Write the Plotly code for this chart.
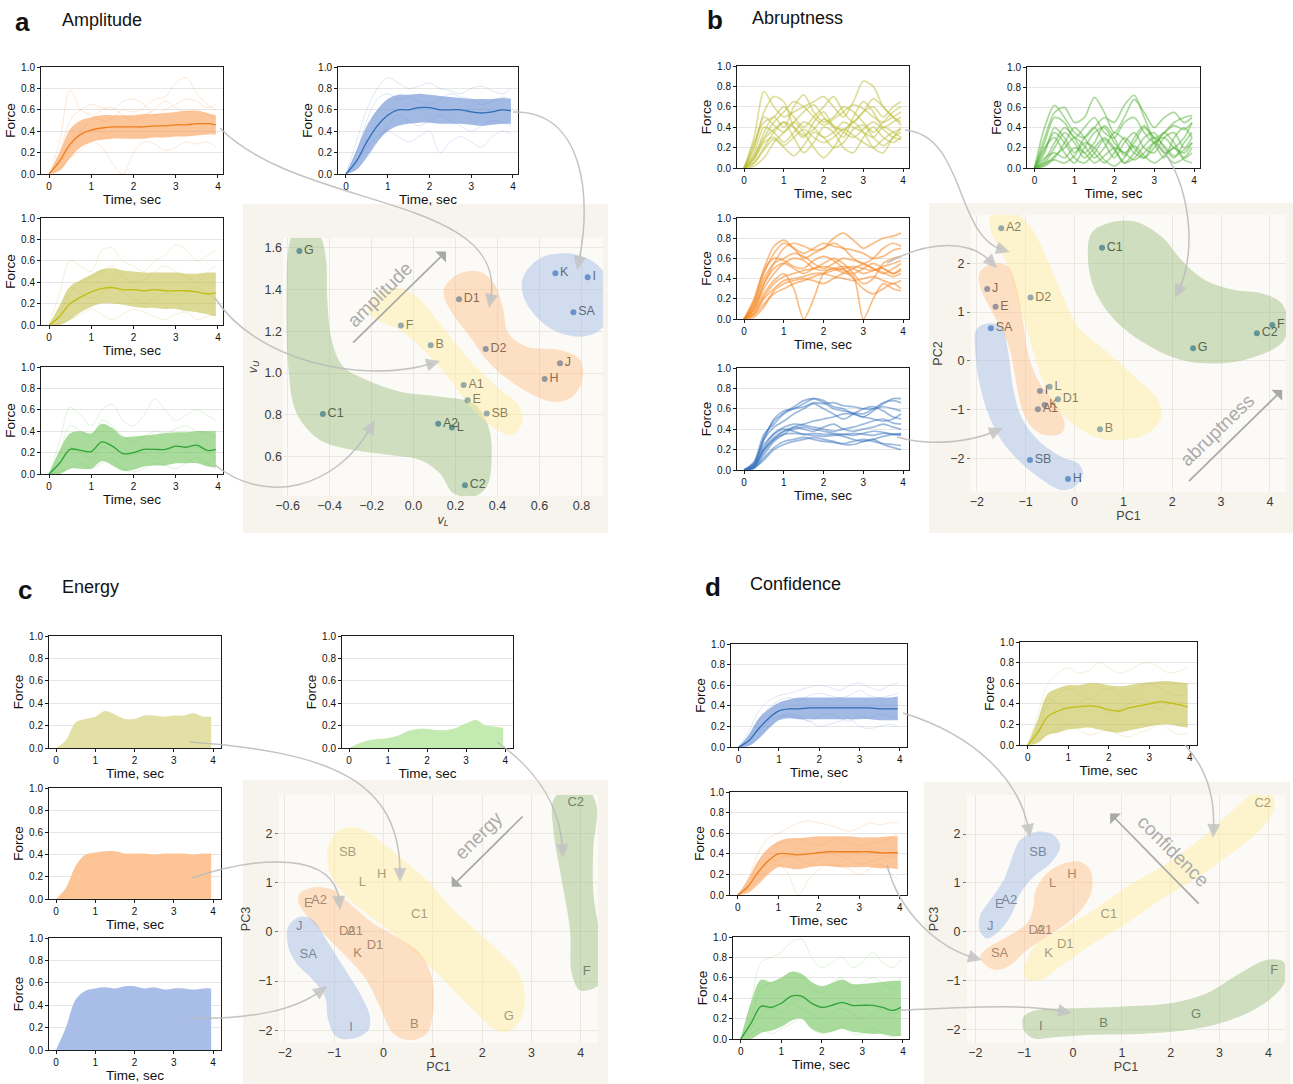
import math
import plotly.graph_objects as go

W, H = 1293, 1084
FONT = "Liberation Sans, Arial, Helvetica, sans-serif"

# ---------------- time-series data ----------------
T = [0.0, 0.25, 0.5, 0.75, 1.0, 1.25, 1.5, 1.75, 2.0, 2.25, 2.5, 2.75, 3.0, 3.25, 3.5, 3.75, 3.95]

# panel a (mean, band upper, band lower, a few single trials)
A_OR_MEAN = [0, 0.12, 0.28, 0.37, 0.41, 0.43, 0.44, 0.44, 0.44, 0.44, 0.45, 0.45, 0.46, 0.46, 0.47, 0.47, 0.46]
A_OR_UP = [0, 0.2, 0.42, 0.5, 0.53, 0.55, 0.55, 0.55, 0.55, 0.56, 0.56, 0.57, 0.58, 0.59, 0.59, 0.57, 0.55]
A_OR_LO = [0, 0.03, 0.15, 0.25, 0.3, 0.32, 0.33, 0.33, 0.33, 0.33, 0.34, 0.34, 0.35, 0.35, 0.36, 0.37, 0.37]
A_OR_TR = [
    [0, 0.3, 0.78, 0.6, 0.55, 0.5, 0.52, 0.6, 0.58, 0.62, 0.7, 0.72, 0.85, 0.9, 0.75, 0.65, 0.6],
    [0, 0.1, 0.25, 0.4, 0.5, 0.6, 0.62, 0.55, 0.5, 0.55, 0.6, 0.68, 0.62, 0.58, 0.6, 0.55, 0.52],
    [0, 0.05, 0.15, 0.22, 0.3, 0.25, 0.1, 0.0, 0.2, 0.3, 0.28, 0.22, 0.25, 0.3, 0.28, 0.3, 0.25],
    [0, 0.2, 0.5, 0.6, 0.65, 0.62, 0.6, 0.68, 0.7, 0.65, 0.55, 0.6, 0.65, 0.7, 0.68, 0.62, 0.65],
]
A_BL_MEAN = [0, 0.12, 0.3, 0.45, 0.55, 0.6, 0.6, 0.62, 0.62, 0.6, 0.6, 0.6, 0.58, 0.57, 0.58, 0.6, 0.59]
A_BL_UP = [0, 0.22, 0.45, 0.6, 0.7, 0.74, 0.74, 0.75, 0.74, 0.73, 0.72, 0.71, 0.7, 0.7, 0.7, 0.71, 0.7]
A_BL_LO = [0, 0.04, 0.16, 0.3, 0.4, 0.45, 0.47, 0.48, 0.48, 0.47, 0.47, 0.47, 0.46, 0.45, 0.46, 0.47, 0.47]
A_BL_TR = [
    [0, 0.3, 0.6, 0.8, 0.9, 0.85, 0.8, 0.82, 0.85, 0.8, 0.78, 0.75, 0.8, 0.82, 0.78, 0.75, 0.8],
    [0, 0.1, 0.25, 0.35, 0.4, 0.35, 0.3, 0.35, 0.4, 0.2, 0.3, 0.35, 0.3, 0.25, 0.35, 0.4, 0.38],
    [0, 0.2, 0.5, 0.7, 0.75, 0.7, 0.72, 0.68, 0.65, 0.7, 0.75, 0.72, 0.7, 0.65, 0.68, 0.72, 0.7],
    [0, 0.05, 0.15, 0.3, 0.45, 0.55, 0.5, 0.45, 0.5, 0.55, 0.5, 0.45, 0.4, 0.45, 0.5, 0.48, 0.45],
]
A_OL_MEAN = [0, 0.08, 0.2, 0.26, 0.31, 0.34, 0.35, 0.33, 0.33, 0.32, 0.33, 0.32, 0.32, 0.32, 0.31, 0.29, 0.30]
A_OL_UP = [0, 0.18, 0.36, 0.42, 0.47, 0.52, 0.53, 0.51, 0.5, 0.49, 0.49, 0.49, 0.49, 0.48, 0.48, 0.49, 0.49]
A_OL_LO = [0, 0.0, 0.05, 0.12, 0.17, 0.2, 0.2, 0.19, 0.17, 0.16, 0.16, 0.15, 0.15, 0.13, 0.12, 0.1, 0.08]
A_OL_TR = [
    [0, 0.3, 0.6, 0.55, 0.5, 0.7, 0.72, 0.6, 0.55, 0.5, 0.6, 0.65, 0.75, 0.7, 0.6, 0.65, 0.7],
    [0, 0.1, 0.3, 0.4, 0.45, 0.5, 0.55, 0.45, 0.4, 0.42, 0.5, 0.55, 0.5, 0.45, 0.4, 0.5, 0.55],
    [0, 0.02, 0.05, 0.1, 0.15, 0.1, 0.05, 0.1, 0.15, 0.12, 0.08, 0.05, 0.1, 0.12, 0.05, 0.08, 0.1],
    [0, 0.15, 0.35, 0.3, 0.25, 0.3, 0.35, 0.3, 0.25, 0.2, 0.25, 0.3, 0.28, 0.3, 0.35, 0.3, 0.25],
]
A_GR_MEAN = [0, 0.1, 0.23, 0.22, 0.21, 0.3, 0.26, 0.19, 0.2, 0.23, 0.23, 0.23, 0.26, 0.25, 0.27, 0.22, 0.23]
A_GR_UP = [0, 0.22, 0.38, 0.4, 0.38, 0.47, 0.43, 0.35, 0.35, 0.36, 0.37, 0.38, 0.39, 0.39, 0.4, 0.4, 0.4]
A_GR_LO = [0, 0.0, 0.05, 0.05, 0.05, 0.12, 0.08, 0.03, 0.04, 0.07, 0.08, 0.08, 0.1, 0.1, 0.1, 0.07, 0.06]
A_GR_TR = [
    [0, 0.3, 0.62, 0.55, 0.45, 0.6, 0.65, 0.5, 0.45, 0.55, 0.7, 0.6, 0.5, 0.55, 0.6, 0.55, 0.5],
    [0, 0.2, 0.45, 0.4, 0.35, 0.5, 0.45, 0.35, 0.3, 0.35, 0.4, 0.38, 0.42, 0.45, 0.4, 0.38, 0.35],
    [0, 0.02, 0.05, 0.1, 0.05, 0.1, 0.15, 0.05, 0.02, 0.05, 0.1, 0.08, 0.05, 0.1, 0.15, 0.1, 0.05],
    [0, 0.1, 0.25, 0.2, 0.15, 0.25, 0.2, 0.15, 0.18, 0.2, 0.15, 0.2, 0.25, 0.2, 0.25, 0.2, 0.15],
]

# panel b (single trials)
B_OL_TR = [
    [0, 0.2, 0.55, 0.7, 0.65, 0.4, 0.3, 0.45, 0.55, 0.4, 0.3, 0.5, 0.65, 0.55, 0.4, 0.45, 0.5],
    [0, 0.1, 0.35, 0.5, 0.4, 0.6, 0.72, 0.55, 0.45, 0.5, 0.6, 0.55, 0.45, 0.35, 0.45, 0.55, 0.6],
    [0, 0.3, 0.75, 0.6, 0.5, 0.55, 0.6, 0.65, 0.7, 0.6, 0.5, 0.65, 0.85, 0.8, 0.6, 0.5, 0.45],
    [0, 0.05, 0.2, 0.35, 0.45, 0.3, 0.15, 0.25, 0.4, 0.35, 0.2, 0.15, 0.3, 0.4, 0.3, 0.25, 0.3],
    [0, 0.15, 0.4, 0.35, 0.25, 0.35, 0.45, 0.4, 0.3, 0.35, 0.45, 0.4, 0.35, 0.3, 0.4, 0.35, 0.3],
    [0, 0.02, 0.1, 0.25, 0.35, 0.45, 0.35, 0.2, 0.1, 0.2, 0.35, 0.45, 0.35, 0.2, 0.15, 0.3, 0.35],
    [0, 0.25, 0.45, 0.5, 0.6, 0.5, 0.4, 0.5, 0.6, 0.7, 0.55, 0.45, 0.55, 0.6, 0.5, 0.6, 0.65],
    [0, 0.08, 0.25, 0.3, 0.22, 0.3, 0.38, 0.3, 0.25, 0.3, 0.38, 0.32, 0.25, 0.2, 0.28, 0.35, 0.38],
    [0, 0.12, 0.3, 0.45, 0.55, 0.65, 0.6, 0.5, 0.42, 0.48, 0.55, 0.62, 0.58, 0.5, 0.45, 0.5, 0.55],
    [0, 0.05, 0.18, 0.28, 0.2, 0.12, 0.22, 0.35, 0.3, 0.2, 0.25, 0.38, 0.42, 0.3, 0.22, 0.3, 0.4],
    [0, 0.22, 0.5, 0.42, 0.35, 0.45, 0.55, 0.62, 0.5, 0.4, 0.38, 0.45, 0.55, 0.68, 0.6, 0.5, 0.42],
    [0, 0.1, 0.28, 0.38, 0.45, 0.4, 0.32, 0.38, 0.48, 0.42, 0.35, 0.3, 0.38, 0.45, 0.38, 0.3, 0.28],
]
B_GR_TR = [
    [0, 0.3, 0.55, 0.6, 0.45, 0.5, 0.7, 0.55, 0.35, 0.5, 0.68, 0.55, 0.4, 0.5, 0.55, 0.45, 0.5],
    [0, 0.15, 0.4, 0.3, 0.15, 0.3, 0.4, 0.25, 0.1, 0.25, 0.35, 0.2, 0.15, 0.3, 0.35, 0.2, 0.3],
    [0, 0.05, 0.2, 0.35, 0.25, 0.1, 0.2, 0.3, 0.2, 0.05, 0.15, 0.3, 0.35, 0.2, 0.1, 0.25, 0.35],
    [0, 0.2, 0.3, 0.15, 0.05, 0.2, 0.35, 0.4, 0.25, 0.15, 0.25, 0.4, 0.3, 0.15, 0.2, 0.3, 0.45],
    [0, 0.02, 0.1, 0.25, 0.4, 0.3, 0.15, 0.05, 0.15, 0.3, 0.2, 0.1, 0.2, 0.35, 0.25, 0.1, 0.15],
    [0, 0.1, 0.15, 0.1, 0.2, 0.15, 0.05, 0.12, 0.2, 0.15, 0.08, 0.15, 0.25, 0.15, 0.05, 0.1, 0.2],
    [0, 0.25, 0.5, 0.45, 0.3, 0.4, 0.5, 0.35, 0.3, 0.45, 0.5, 0.35, 0.25, 0.35, 0.45, 0.5, 0.52],
    [0, 0.05, 0.08, 0.05, 0.12, 0.25, 0.2, 0.08, 0.02, 0.1, 0.22, 0.12, 0.05, 0.12, 0.2, 0.08, 0.05],
    [0, 0.08, 0.25, 0.4, 0.3, 0.15, 0.25, 0.42, 0.3, 0.12, 0.3, 0.42, 0.25, 0.1, 0.3, 0.4, 0.3],
    [0, 0.18, 0.35, 0.25, 0.1, 0.05, 0.15, 0.28, 0.18, 0.05, 0.1, 0.22, 0.3, 0.22, 0.12, 0.18, 0.25],
    [0, 0.03, 0.12, 0.2, 0.3, 0.22, 0.1, 0.2, 0.35, 0.28, 0.15, 0.1, 0.25, 0.3, 0.2, 0.15, 0.25],
    [0, 0.4, 0.62, 0.5, 0.35, 0.3, 0.4, 0.5, 0.45, 0.62, 0.72, 0.5, 0.3, 0.35, 0.42, 0.38, 0.45],
]
B_OR_TR = [
    [0, 0.15, 0.45, 0.65, 0.75, 0.7, 0.65, 0.7, 0.75, 0.72, 0.7, 0.68, 0.65, 0.6, 0.62, 0.68, 0.7],
    [0, 0.1, 0.3, 0.45, 0.55, 0.6, 0.58, 0.5, 0.48, 0.5, 0.52, 0.5, 0.45, 0.48, 0.5, 0.45, 0.48],
    [0, 0.05, 0.2, 0.3, 0.38, 0.4, 0.42, 0.45, 0.45, 0.42, 0.4, 0.38, 0.4, 0.42, 0.38, 0.35, 0.38],
    [0, 0.2, 0.5, 0.72, 0.78, 0.7, 0.6, 0.65, 0.7, 0.8, 0.85, 0.78, 0.7, 0.75, 0.8, 0.82, 0.85],
    [0, 0.08, 0.25, 0.38, 0.45, 0.3, 0.0, 0.2, 0.45, 0.5, 0.48, 0.45, 0.5, 0.55, 0.5, 0.45, 0.5],
    [0, 0.12, 0.35, 0.5, 0.55, 0.5, 0.45, 0.5, 0.55, 0.6, 0.55, 0.45, 0.35, 0.4, 0.55, 0.6, 0.62],
    [0, 0.02, 0.12, 0.28, 0.35, 0.38, 0.4, 0.38, 0.35, 0.4, 0.45, 0.42, 0.0, 0.2, 0.35, 0.3, 0.28],
    [0, 0.15, 0.4, 0.55, 0.6, 0.65, 0.62, 0.55, 0.5, 0.55, 0.6, 0.58, 0.55, 0.5, 0.45, 0.5, 0.55],
    [0, 0.1, 0.35, 0.55, 0.7, 0.75, 0.72, 0.68, 0.7, 0.75, 0.7, 0.6, 0.55, 0.6, 0.7, 0.75, 0.72],
    [0, 0.06, 0.22, 0.35, 0.42, 0.45, 0.48, 0.5, 0.52, 0.5, 0.46, 0.5, 0.54, 0.5, 0.46, 0.42, 0.45],
    [0, 0.18, 0.48, 0.6, 0.58, 0.52, 0.5, 0.58, 0.62, 0.58, 0.5, 0.4, 0.3, 0.25, 0.3, 0.35, 0.3],
    [0, 0.04, 0.15, 0.25, 0.3, 0.35, 0.38, 0.42, 0.45, 0.48, 0.5, 0.52, 0.5, 0.48, 0.52, 0.55, 0.58],
]
B_BL_TR = [
    [0, 0.05, 0.3, 0.5, 0.58, 0.6, 0.65, 0.7, 0.68, 0.62, 0.6, 0.55, 0.52, 0.58, 0.65, 0.7, 0.7],
    [0, 0.08, 0.35, 0.45, 0.55, 0.6, 0.62, 0.66, 0.65, 0.66, 0.63, 0.62, 0.6, 0.6, 0.62, 0.6, 0.58],
    [0, 0.03, 0.2, 0.32, 0.38, 0.4, 0.42, 0.4, 0.38, 0.36, 0.35, 0.34, 0.36, 0.38, 0.37, 0.35, 0.36],
    [0, 0.05, 0.25, 0.35, 0.4, 0.38, 0.35, 0.36, 0.35, 0.35, 0.33, 0.3, 0.28, 0.3, 0.33, 0.35, 0.35],
    [0, 0.02, 0.15, 0.28, 0.35, 0.42, 0.45, 0.48, 0.5, 0.52, 0.55, 0.55, 0.52, 0.5, 0.48, 0.5, 0.55],
    [0, 0.04, 0.2, 0.3, 0.38, 0.42, 0.4, 0.38, 0.42, 0.45, 0.4, 0.38, 0.4, 0.42, 0.45, 0.42, 0.4],
    [0, 0.02, 0.1, 0.2, 0.25, 0.28, 0.3, 0.32, 0.3, 0.28, 0.25, 0.25, 0.28, 0.3, 0.25, 0.22, 0.2],
    [0, 0.06, 0.3, 0.42, 0.48, 0.55, 0.6, 0.65, 0.6, 0.55, 0.5, 0.55, 0.6, 0.62, 0.58, 0.52, 0.5],
    [0, 0.04, 0.22, 0.36, 0.42, 0.45, 0.44, 0.42, 0.4, 0.38, 0.4, 0.42, 0.45, 0.48, 0.5, 0.46, 0.45],
    [0, 0.03, 0.18, 0.3, 0.35, 0.36, 0.35, 0.34, 0.33, 0.34, 0.35, 0.36, 0.35, 0.34, 0.36, 0.35, 0.34],
    [0, 0.07, 0.32, 0.48, 0.56, 0.62, 0.68, 0.7, 0.66, 0.6, 0.58, 0.56, 0.55, 0.6, 0.66, 0.68, 0.66],
    [0, 0.02, 0.12, 0.22, 0.28, 0.3, 0.32, 0.3, 0.28, 0.27, 0.26, 0.28, 0.3, 0.28, 0.26, 0.25, 0.24],
]

# panel c (mean force as filled area)
C_OL = [0, 0.07, 0.23, 0.26, 0.28, 0.33, 0.3, 0.26, 0.26, 0.29, 0.29, 0.28, 0.29, 0.29, 0.31, 0.28, 0.28]
C_GR = [0, 0.04, 0.07, 0.08, 0.09, 0.11, 0.15, 0.17, 0.17, 0.16, 0.16, 0.18, 0.22, 0.25, 0.2, 0.19, 0.18]
C_OR = [0, 0.1, 0.3, 0.4, 0.42, 0.43, 0.43, 0.41, 0.41, 0.41, 0.4, 0.41, 0.41, 0.41, 0.4, 0.41, 0.41]
C_BL = [0, 0.2, 0.45, 0.53, 0.55, 0.56, 0.55, 0.57, 0.57, 0.55, 0.56, 0.54, 0.55, 0.55, 0.54, 0.55, 0.55]

# panel d
D_BL_MEAN = [0, 0.06, 0.18, 0.28, 0.35, 0.37, 0.37, 0.38, 0.38, 0.38, 0.38, 0.38, 0.38, 0.38, 0.37, 0.37, 0.37]
D_BL_UP = [0, 0.12, 0.28, 0.37, 0.43, 0.46, 0.48, 0.48, 0.48, 0.48, 0.48, 0.48, 0.48, 0.48, 0.48, 0.48, 0.49]
D_BL_LO = [0, 0.01, 0.08, 0.18, 0.26, 0.28, 0.27, 0.27, 0.27, 0.27, 0.27, 0.27, 0.27, 0.27, 0.26, 0.26, 0.26]
D_BL_TR = [
    [0, 0.15, 0.35, 0.45, 0.5, 0.52, 0.55, 0.58, 0.6, 0.58, 0.55, 0.6, 0.62, 0.58, 0.55, 0.6, 0.62],
    [0, 0.05, 0.15, 0.25, 0.3, 0.3, 0.28, 0.25, 0.2, 0.22, 0.25, 0.28, 0.2, 0.18, 0.2, 0.22, 0.2],
    [0, 0.1, 0.25, 0.38, 0.45, 0.48, 0.45, 0.5, 0.52, 0.5, 0.48, 0.5, 0.55, 0.5, 0.48, 0.5, 0.52],
    [0, 0.02, 0.1, 0.2, 0.28, 0.32, 0.3, 0.25, 0.3, 0.32, 0.28, 0.25, 0.3, 0.28, 0.32, 0.3, 0.28],
]
D_OL_MEAN = [0, 0.12, 0.28, 0.33, 0.36, 0.37, 0.38, 0.37, 0.34, 0.33, 0.36, 0.38, 0.4, 0.42, 0.41, 0.39, 0.37]
D_OL_UP = [0, 0.25, 0.5, 0.55, 0.58, 0.58, 0.6, 0.6, 0.58, 0.57, 0.58, 0.6, 0.61, 0.62, 0.62, 0.61, 0.6]
D_OL_LO = [0, 0.02, 0.1, 0.12, 0.15, 0.16, 0.17, 0.15, 0.13, 0.12, 0.14, 0.16, 0.18, 0.2, 0.2, 0.18, 0.17]
D_OL_TR = [
    [0, 0.3, 0.6, 0.7, 0.75, 0.7, 0.72, 0.8, 0.75, 0.7, 0.72, 0.78, 0.8, 0.75, 0.7, 0.72, 0.75],
    [0, 0.15, 0.4, 0.5, 0.55, 0.5, 0.45, 0.5, 0.55, 0.5, 0.45, 0.55, 0.6, 0.55, 0.5, 0.48, 0.5],
    [0, 0.05, 0.1, 0.15, 0.2, 0.15, 0.1, 0.12, 0.15, 0.1, 0.08, 0.12, 0.15, 0.2, 0.15, 0.1, 0.12],
    [0, 0.2, 0.45, 0.4, 0.35, 0.4, 0.45, 0.4, 0.3, 0.35, 0.4, 0.45, 0.4, 0.35, 0.4, 0.42, 0.4],
]
D_OR_MEAN = [0, 0.08, 0.22, 0.33, 0.4, 0.4, 0.39, 0.4, 0.41, 0.42, 0.42, 0.42, 0.42, 0.42, 0.41, 0.41, 0.41]
D_OR_UP = [0, 0.15, 0.33, 0.45, 0.52, 0.55, 0.55, 0.56, 0.57, 0.57, 0.57, 0.57, 0.56, 0.56, 0.56, 0.57, 0.57]
D_OR_LO = [0, 0.02, 0.1, 0.2, 0.27, 0.26, 0.25, 0.27, 0.28, 0.28, 0.27, 0.27, 0.27, 0.27, 0.26, 0.26, 0.25]
D_OR_TR = [
    [0, 0.15, 0.4, 0.55, 0.6, 0.65, 0.7, 0.72, 0.7, 0.68, 0.65, 0.62, 0.65, 0.7, 0.68, 0.7, 0.7],
    [0, 0.05, 0.15, 0.25, 0.3, 0.2, 0.0, 0.15, 0.25, 0.3, 0.28, 0.25, 0.2, 0.25, 0.3, 0.22, 0.15],
    [0, 0.1, 0.3, 0.45, 0.5, 0.52, 0.55, 0.5, 0.48, 0.52, 0.55, 0.5, 0.48, 0.5, 0.52, 0.55, 0.6],
    [0, 0.08, 0.2, 0.3, 0.35, 0.38, 0.35, 0.3, 0.35, 0.4, 0.38, 0.35, 0.3, 0.32, 0.35, 0.38, 0.35],
]
D_GR_MEAN = [0, 0.15, 0.32, 0.31, 0.35, 0.42, 0.42, 0.35, 0.31, 0.33, 0.36, 0.33, 0.33, 0.33, 0.31, 0.28, 0.31]
D_GR_UP = [0, 0.35, 0.58, 0.56, 0.6, 0.66, 0.64, 0.56, 0.52, 0.55, 0.58, 0.54, 0.54, 0.55, 0.56, 0.57, 0.57]
D_GR_LO = [0, 0.0, 0.06, 0.08, 0.12, 0.18, 0.2, 0.1, 0.06, 0.07, 0.1, 0.07, 0.06, 0.05, 0.05, 0.03, 0.03]
D_GR_TR = [
    [0, 0.35, 0.75, 0.8, 0.85, 0.95, 0.98, 0.8, 0.7, 0.75, 0.8, 0.7, 0.75, 0.85, 0.75, 0.7, 0.78],
    [0, 0.2, 0.5, 0.55, 0.6, 0.65, 0.6, 0.5, 0.45, 0.55, 0.6, 0.5, 0.55, 0.6, 0.55, 0.5, 0.6],
    [0, 0.05, 0.1, 0.05, 0.1, 0.15, 0.2, 0.1, 0.05, 0.08, 0.12, 0.05, 0.05, 0.1, 0.05, 0.02, 0.05],
    [0, 0.1, 0.25, 0.3, 0.25, 0.35, 0.3, 0.25, 0.2, 0.25, 0.3, 0.25, 0.2, 0.25, 0.3, 0.25, 0.28],
]

# ---------------- scatter data ----------------
LABELS_A = ["G", "C1", "F", "B", "D1", "D2", "A1", "E", "SB", "A2", "L", "C2", "H", "J", "K", "I", "SA"]
VL = [-0.544, -0.432, -0.06, 0.082, 0.217, 0.344, 0.239, 0.258, 0.349, 0.118, 0.183, 0.245, 0.625, 0.698, 0.676, 0.83, 0.762]
VU = [1.584, 0.804, 1.227, 1.133, 1.353, 1.115, 0.943, 0.870, 0.806, 0.758, 0.740, 0.464, 0.972, 1.047, 1.477, 1.458, 1.291]

LABELS_B = ["A2", "C1", "J", "D2", "E", "SA", "F", "C2", "G", "I", "L", "D1", "A1", "K", "B", "SB", "H"]
PC1_B = [-1.501, 0.563, -1.788, -0.900, -1.617, -1.713, 4.048, 3.734, 2.428, -0.708, -0.510, -0.339, -0.749, -0.613, 0.522, -0.913, -0.134]
PC2_B = [2.718, 2.321, 1.473, 1.296, 1.111, 0.667, 0.735, 0.564, 0.256, -0.619, -0.530, -0.790, -0.995, -0.906, -1.405, -2.034, -2.424]

LABELS_C = ["C2", "SB", "H", "L", "E", "A2", "C1", "J", "D2", "A1", "D1", "K", "SA", "F", "I", "B", "G"]
PC1_C = [3.898, -0.728, -0.038, -0.431, -1.527, -1.310, 0.726, -1.709, -0.735, -0.580, -0.174, -0.525, -1.527, 4.121, -0.661, 0.624, 2.539]
PC3_C = [2.624, 1.614, 1.166, 0.997, 0.576, 0.630, 0.339, 0.101, 0.0, 0.0, -0.285, -0.454, -0.475, -0.814, -1.953, -1.899, -1.729]
PC1_D = [3.884, -0.718, -0.023, -0.418, -1.509, -1.305, 0.734, -1.693, -0.739, -0.589, -0.159, -0.500, -1.502, 4.122, -0.657, 0.625, 2.520]
PC3_D = [2.614, 1.618, 1.160, 0.990, 0.560, 0.635, 0.341, 0.102, 0.014, 0.014, -0.273, -0.457, -0.457, -0.805, -1.945, -1.877, -1.707]

# cluster hulls (outline vertices in data units)
HULL_A_GREEN = [(-0.525, 1.692), (-0.446, 1.653), (-0.417, 1.541), (-0.411, 1.350), (-0.390, 1.158), (-0.335, 1.031), (-0.223, 0.967), (-0.064, 0.911), (0.126, 0.887), (0.285, 0.855), (0.357, 0.744), (0.372, 0.584), (0.349, 0.456), (0.285, 0.409), (0.190, 0.425), (0.126, 0.520), (0.031, 0.584), (-0.112, 0.608), (-0.287, 0.632), (-0.446, 0.680), (-0.557, 0.807), (-0.597, 1.031), (-0.605, 1.350), (-0.597, 1.589), (-0.573, 1.669)]
HULL_A_YELLOW = [(-0.215, 1.294), (-0.176, 1.374), (-0.088, 1.409), (0.015, 1.366), (0.126, 1.238), (0.253, 1.078), (0.396, 0.935), (0.500, 0.847), (0.520, 0.775), (0.476, 0.704), (0.396, 0.728), (0.285, 0.823), (0.174, 0.967), (0.063, 1.094), (-0.065, 1.206), (-0.176, 1.254)]
HULL_A_ORANGE = [(0.150, 1.413), (0.214, 1.474), (0.317, 1.485), (0.388, 1.421), (0.428, 1.302), (0.452, 1.190), (0.539, 1.126), (0.698, 1.110), (0.794, 1.063), (0.802, 0.959), (0.746, 0.879), (0.658, 0.863), (0.555, 0.903), (0.444, 0.975), (0.349, 1.063), (0.269, 1.174), (0.190, 1.278), (0.145, 1.366)]
HULL_A_BLUE = [(0.523, 1.461), (0.603, 1.549), (0.730, 1.573), (0.857, 1.533), (0.929, 1.445), (0.937, 1.302), (0.889, 1.206), (0.794, 1.174), (0.666, 1.206), (0.571, 1.286), (0.520, 1.381)]

HULL_B_YELLOW = [(-1.706, 2.992), (-1.296, 3.060), (-0.954, 2.821), (-0.613, 2.205), (-0.271, 1.385), (0.071, 0.701), (0.617, 0.222), (1.232, -0.325), (1.711, -0.804), (1.779, -1.146), (1.506, -1.487), (0.891, -1.624), (0.412, -1.556), (-0.134, -1.214), (-0.476, -0.804), (-0.749, -0.120), (-0.954, 0.564), (-1.159, 1.248), (-1.364, 1.932), (-1.638, 2.479), (-1.740, 2.786)]
HULL_B_ORANGE = [(-1.911, 1.863), (-1.638, 2.000), (-1.364, 1.932), (-1.194, 1.521), (-1.057, 0.838), (-0.954, 0.154), (-0.749, -0.393), (-0.408, -0.872), (-0.203, -1.282), (-0.271, -1.487), (-0.613, -1.522), (-0.886, -1.351), (-1.091, -0.940), (-1.228, -0.256), (-1.364, 0.359), (-1.638, 0.906), (-1.911, 1.453), (-1.966, 1.692)]
HULL_B_BLUE = [(-2.014, 0.632), (-1.774, 0.769), (-1.501, 0.701), (-1.364, 0.222), (-1.262, -0.530), (-1.091, -1.146), (-0.749, -1.624), (-0.271, -1.966), (0.071, -2.103), (0.173, -2.308), (0.002, -2.581), (-0.271, -2.650), (-0.749, -2.376), (-1.159, -2.034), (-1.501, -1.624), (-1.774, -1.077), (-1.945, -0.462), (-2.034, 0.222)]
HULL_B_GREEN = [(0.344, 2.615), (0.686, 2.821), (1.232, 2.855), (1.779, 2.547), (2.189, 2.068), (2.668, 1.658), (3.283, 1.453), (3.829, 1.385), (4.239, 1.179), (4.376, 0.701), (4.239, 0.359), (3.693, 0.085), (3.009, -0.051), (2.189, 0.017), (1.437, 0.359), (0.822, 0.838), (0.412, 1.453), (0.276, 2.068)]

HULL_C_YELLOW = [(-1.121, 1.729), (-0.884, 2.068), (-0.478, 2.102), (-0.005, 1.797), (0.401, 1.458), (0.875, 1.051), (1.416, 0.441), (2.092, -0.170), (2.701, -0.780), (2.870, -1.254), (2.769, -1.797), (2.498, -2.034), (2.227, -1.966), (1.822, -1.593), (1.281, -1.051), (0.739, -0.509), (0.198, -0.034), (-0.343, 0.373), (-0.816, 0.780), (-1.087, 1.186), (-1.141, 1.492)]
HULL_C_ORANGE = [(-1.696, 0.780), (-1.425, 0.902), (-1.019, 0.847), (-0.613, 0.508), (-0.208, 0.169), (0.266, -0.102), (0.739, -0.441), (0.976, -0.915), (1.010, -1.593), (0.875, -2.068), (0.537, -2.204), (0.198, -2.068), (-0.072, -1.526), (-0.343, -0.983), (-0.749, -0.509), (-1.222, -0.034), (-1.594, 0.373), (-1.729, 0.610)]
HULL_C_BLUE = [(-1.932, 0.102), (-1.696, 0.305), (-1.425, 0.237), (-1.155, -0.170), (-0.816, -0.712), (-0.478, -1.254), (-0.275, -1.729), (-0.309, -2.000), (-0.613, -2.170), (-0.952, -2.136), (-1.121, -1.797), (-1.188, -1.322), (-1.425, -0.983), (-1.763, -0.644), (-1.932, -0.305)]
HULL_C_GREEN = [(3.445, 2.678), (3.716, 2.915), (4.121, 2.915), (4.324, 2.542), (4.257, 1.729), (4.257, 0.780), (4.392, -0.102), (4.460, -0.915), (4.324, -1.119), (3.986, -1.187), (3.817, -0.848), (3.783, 0.034), (3.614, 1.051), (3.445, 2.068)]

HULL_D_BLUE = [(-1.080, 1.877), (-0.739, 2.048), (-0.398, 1.980), (-0.261, 1.741), (-0.466, 1.399), (-0.807, 1.126), (-1.080, 0.785), (-1.250, 0.375), (-1.489, 0.034), (-1.761, -0.137), (-1.898, 0.0), (-1.911, 0.307), (-1.693, 0.648), (-1.420, 1.058), (-1.216, 1.604)]
HULL_D_ORANGE = [(-0.773, 0.819), (-0.534, 1.195), (-0.193, 1.399), (0.148, 1.433), (0.352, 1.263), (0.386, 0.853), (0.216, 0.512), (-0.125, 0.171), (-0.534, -0.102), (-0.943, -0.375), (-1.284, -0.683), (-1.557, -0.785), (-1.795, -0.683), (-1.898, -0.512), (-1.761, -0.341), (-1.352, -0.102), (-0.943, 0.171), (-0.807, 0.512)]
HULL_D_YELLOW = [(-0.943, -0.580), (-0.773, -0.273), (-0.261, 0.034), (0.420, 0.444), (1.102, 0.922), (1.920, 1.399), (2.670, 1.945), (3.352, 2.560), (3.761, 2.867), (4.068, 2.833), (4.116, 2.491), (3.829, 2.082), (3.148, 1.536), (2.466, 1.058), (1.784, 0.648), (1.102, 0.171), (0.420, -0.239), (-0.261, -0.717), (-0.670, -0.990), (-0.943, -0.976), (-1.011, -0.785)]
HULL_D_GREEN = [(-1.011, -1.741), (-0.739, -1.604), (-0.057, -1.570), (0.966, -1.536), (1.989, -1.468), (2.739, -1.263), (3.420, -0.853), (3.966, -0.580), (4.307, -0.614), (4.375, -0.922), (4.170, -1.263), (3.693, -1.604), (3.011, -1.877), (2.330, -2.014), (1.307, -2.096), (0.284, -2.116), (-0.398, -2.164), (-0.807, -2.184), (-1.011, -2.014)]

# ---------------- styles ----------------
COL = {
    "orange": dict(line="#f07e1c", band="rgba(248,150,70,0.55)", faint="rgba(248,150,70,0.22)",
                   trial="rgba(245,135,35,0.55)", area="#fdc596", hull="rgba(255,185,125,0.42)"),
    "blue": dict(line="#2f6fb6", band="rgba(95,135,208,0.58)", faint="rgba(95,135,208,0.2)",
                 trial="rgba(55,115,190,0.5)", area="#a9bde9", hull="rgba(150,180,228,0.42)"),
    "olive": dict(line="#c2bd10", band="rgba(190,185,60,0.55)", faint="rgba(190,185,60,0.2)",
                  trial="rgba(190,190,55,0.5)", area="#e3e0a6", hull="rgba(255,235,150,0.42)"),
    "green": dict(line="#2ea436", band="rgba(110,195,90,0.6)", faint="rgba(110,195,90,0.2)",
                  trial="rgba(85,180,55,0.5)", area="#c3eab1", hull="rgba(140,180,110,0.40)"),
}
HULL_COL = {"green": COL["green"]["hull"], "yellow": COL["olive"]["hull"],
            "orange": COL["orange"]["hull"], "blue": COL["blue"]["hull"]}

fig = go.Figure()
layout = {}
shapes = []
annotations = []


def names(n):
    s = "" if n == 1 else str(n)
    return "xaxis" + s, "yaxis" + s, "x" + s, "y" + s


def small_axes(n, box, xr):
    x0, y0, x1, y1 = box
    xa, ya, xr_, yr_ = names(n)
    common = dict(showline=True, mirror=True, linecolor="#1c1c1c", linewidth=1, ticks="outside",
                  ticklen=3, tickwidth=1, tickcolor="#1c1c1c", zeroline=False, automargin=False,
                  tickfont=dict(size=10, color="#111", family=FONT))
    layout[xa] = dict(domain=[x0 / W, x1 / W], range=xr, anchor=yr_, dtick=1, tick0=0, showgrid=False,
                      title=dict(text="Time, sec", font=dict(size=13.5, color="#111", family=FONT), standoff=1),
                      **common)
    layout[ya] = dict(domain=[1 - y1 / H, 1 - y0 / H], range=[0, 1], anchor=xr_, dtick=0.2, tick0=0,
                      tickformat=".1f", showgrid=True, gridcolor="#e6e6e6", gridwidth=1,
                      title=dict(text="Force", font=dict(size=13.5, color="#111", family=FONT), standoff=2),
                      **common)
    return xr_, yr_


def band_plot(n, box, xr, cname, mean, up, lo, trials):
    xr_, yr_ = small_axes(n, box, xr)
    c = COL[cname]
    for tr in trials:
        fig.add_trace(go.Scatter(x=T, y=tr, mode="lines", line=dict(color=c["faint"], width=1, shape="spline"),
                                 xaxis=xr_, yaxis=yr_, hoverinfo="skip", showlegend=False))
    fig.add_trace(go.Scatter(x=T, y=up, mode="lines", line=dict(width=0, shape="spline"),
                             xaxis=xr_, yaxis=yr_, hoverinfo="skip", showlegend=False))
    fig.add_trace(go.Scatter(x=T, y=lo, mode="lines", line=dict(width=0, shape="spline"), fill="tonexty",
                             fillcolor=c["band"], xaxis=xr_, yaxis=yr_, hoverinfo="skip", showlegend=False))
    fig.add_trace(go.Scatter(x=T, y=mean, mode="lines", line=dict(color=c["line"], width=1.3, shape="spline"),
                             xaxis=xr_, yaxis=yr_, hoverinfo="skip", showlegend=False))


def trial_plot(n, box, xr, cname, trials):
    xr_, yr_ = small_axes(n, box, xr)
    c = COL[cname]
    for tr in trials:
        fig.add_trace(go.Scatter(x=T, y=tr, mode="lines", line=dict(color=c["trial"], width=1.7, shape="spline", smoothing=0.8),
                                 xaxis=xr_, yaxis=yr_, hoverinfo="skip", showlegend=False))


def area_plot(n, box, xr, cname, vals):
    xr_, yr_ = small_axes(n, box, xr)
    fig.add_trace(go.Scatter(x=T, y=vals, mode="lines", line=dict(width=0, shape="spline"), fill="tozeroy",
                             fillcolor=COL[cname]["area"], xaxis=xr_, yaxis=yr_, hoverinfo="skip", showlegend=False))


def scatter_axes(n, box, xr, yr, dtick, fmt, xtitle, ytitle, yticks):
    x0, y0, x1, y1 = box
    xa, ya, xr_, yr_ = names(n)
    tf = dict(size=12.5, color="#3a3a3a", family=FONT)
    layout[xa] = dict(domain=[x0 / W, x1 / W], range=xr, anchor=yr_, dtick=dtick, tick0=0, tickformat=fmt,
                      showgrid=True, gridcolor="#ebe8e1", zeroline=False, showline=False, ticks="", automargin=False,
                      tickfont=tf, title=dict(text=xtitle, font=dict(size=12.5, color="#444", family=FONT), standoff=3))
    layout[ya] = dict(domain=[1 - y1 / H, 1 - y0 / H], range=yr, anchor=xr_, dtick=dtick, tick0=0, tickformat=fmt,
                      showgrid=True, gridcolor="#ebe8e1", zeroline=False, showline=False, automargin=False,
                      ticks="outside" if yticks else "", ticklen=3, tickcolor="#777",
                      tickfont=tf, title=dict(text=ytitle, font=dict(size=12.5, color="#444", family=FONT), standoff=4))
    shapes.append(dict(type="rect", xref="paper", yref="paper", x0=x0 / W, x1=x1 / W, y0=1 - y1 / H, y1=1 - y0 / H,
                       fillcolor="#fcfaf6", line=dict(width=0), layer="below"))
    return xr_, yr_


def hulls(xr_, yr_, items):
    for cname, pts in items:
        xs = [p[0] for p in pts] + [pts[0][0]]
        ys = [p[1] for p in pts] + [pts[0][1]]
        fig.add_trace(go.Scatter(x=xs, y=ys, mode="lines", fill="toself", fillcolor=HULL_COL[cname],
                                 line=dict(width=0, shape="spline", smoothing=1.0),
                                 xaxis=xr_, yaxis=yr_, hoverinfo="skip", showlegend=False))


def data_arrow(xr_, yr_, tail, head, text, tpos, angle):
    annotations.append(dict(x=head[0], y=head[1], ax=tail[0], ay=tail[1], xref=xr_, yref=yr_, axref=xr_, ayref=yr_,
                            text="", showarrow=True, arrowhead=1, arrowsize=1.5, arrowwidth=1.7, arrowcolor="#a9a9a9"))
    annotations.append(dict(x=tpos[0], y=tpos[1], xref=xr_, yref=yr_, text=text, showarrow=False, textangle=angle,
                            font=dict(size=19, color="#ababab", family=FONT)))


for (bx0, by0, bx1, by1) in [(243, 204, 608, 533), (929, 203, 1293, 533), (243, 780, 608, 1084), (924, 782, 1290, 1084)]:
    shapes.append(dict(type="rect", xref="paper", yref="paper", x0=bx0 / W, x1=bx1 / W, y0=1 - by1 / H, y1=1 - by0 / H,
                       fillcolor="#f7f4ed", line=dict(width=0), layer="below"))

# ---------------- panel a ----------------
band_plot(1, (41, 67, 223, 174), [-0.19, 4.12], "orange", A_OR_MEAN, A_OR_UP, A_OR_LO, A_OR_TR)
band_plot(2, (338, 67, 518, 174), [-0.19, 4.12], "blue", A_BL_MEAN, A_BL_UP, A_BL_LO, A_BL_TR)
band_plot(3, (41, 218, 223, 325), [-0.19, 4.12], "olive", A_OL_MEAN, A_OL_UP, A_OL_LO, A_OL_TR)
band_plot(4, (41, 367, 223, 474), [-0.19, 4.12], "green", A_GR_MEAN, A_GR_UP, A_GR_LO, A_GR_TR)
xs, ys = scatter_axes(5, (283, 238, 603, 496), [-0.622, 0.903], [0.412, 1.646], 0.2, ".1f",
                      "<i>v</i><sub><i>L</i></sub>", "<i>v</i><sub><i>U</i></sub>", False)
fig.add_trace(go.Scatter(x=VL, y=VU, mode="markers+text", text=LABELS_A, textposition="middle right",
                         marker=dict(size=6, color="#4a7db5"), textfont=dict(size=12.5, color="#333", family=FONT),
                         cliponaxis=False, xaxis=xs, yaxis=ys, hoverinfo="skip", showlegend=False))
hulls(xs, ys, [("green", HULL_A_GREEN), ("yellow", HULL_A_YELLOW), ("orange", HULL_A_ORANGE), ("blue", HULL_A_BLUE)])
data_arrow(xs, ys, (-0.295, 1.139), (0.155, 1.581), "amplitude", (-0.16, 1.374), -45)

# ---------------- panel b ----------------
trial_plot(6, (737, 66, 909, 168), [-0.18, 4.15], "olive", B_OL_TR)
trial_plot(7, (1027, 67, 1200, 168), [-0.19, 4.15], "green", B_GR_TR)
trial_plot(8, (737, 218, 909, 319), [-0.18, 4.15], "orange", B_OR_TR)
trial_plot(9, (737, 368, 909, 470), [-0.18, 4.15], "blue", B_BL_TR)
xs, ys = scatter_axes(10, (971, 215, 1286, 492), [-2.12, 4.33], [-2.69, 2.99], 1, "d", "PC1", "PC2", True)
fig.add_trace(go.Scatter(x=PC1_B, y=PC2_B, mode="markers+text", text=LABELS_B, textposition="middle right",
                         marker=dict(size=6, color="#4a7db5"), textfont=dict(size=12.5, color="#333", family=FONT),
                         cliponaxis=False, xaxis=xs, yaxis=ys, hoverinfo="skip", showlegend=False))
hulls(xs, ys, [("yellow", HULL_B_YELLOW), ("orange", HULL_B_ORANGE), ("blue", HULL_B_BLUE), ("green", HULL_B_GREEN)])
data_arrow(xs, ys, (2.312, -2.499), (4.253, -0.598), "abruptness", (2.907, -1.42), -44)

# ---------------- panel c ----------------
area_plot(11, (49, 636, 221, 748), [-0.18, 4.2], "olive", C_OL)
area_plot(12, (342, 636, 513, 748), [-0.18, 4.2], "green", C_GR)
area_plot(13, (49, 788, 221, 899), [-0.18, 4.2], "orange", C_OR)
area_plot(14, (49, 938, 221, 1050), [-0.18, 4.2], "blue", C_BL)
xs, ys = scatter_axes(15, (279, 795, 598, 1043), [-2.12, 4.35], [-2.26, 2.78], 1, "d", "PC1", "PC3", True)
fig.add_trace(go.Scatter(x=PC1_C, y=PC3_C, mode="text", text=LABELS_C, textposition="middle center",
                         textfont=dict(size=13, color="#666", family=FONT), cliponaxis=False,
                         xaxis=xs, yaxis=ys, hoverinfo="skip", showlegend=False))
hulls(xs, ys, [("yellow", HULL_C_YELLOW), ("orange", HULL_C_ORANGE), ("blue", HULL_C_BLUE), ("green", HULL_C_GREEN)])
data_arrow(xs, ys, (2.85, 2.373), (1.382, 0.915), "energy", (1.923, 1.966), -45)

# ---------------- panel d ----------------
band_plot(16, (731, 644, 907, 747), [-0.19, 4.18], "blue", D_BL_MEAN, D_BL_UP, D_BL_LO, D_BL_TR)
band_plot(17, (1020, 642, 1197, 745), [-0.19, 4.18], "olive", D_OL_MEAN, D_OL_UP, D_OL_LO, D_OL_TR)
band_plot(18, (730, 792, 907, 895), [-0.19, 4.18], "orange", D_OR_MEAN, D_OR_UP, D_OR_LO, D_OR_TR)
band_plot(19, (733, 937, 909, 1039), [-0.19, 4.15], "green", D_GR_MEAN, D_GR_UP, D_GR_LO, D_GR_TR)
xs, ys = scatter_axes(20, (967, 795, 1285, 1043), [-2.17, 4.34], [-2.28, 2.8], 1, "d", "PC1", "PC3", True)
fig.add_trace(go.Scatter(x=PC1_D, y=PC3_D, mode="text", text=LABELS_C, textposition="middle center",
                         textfont=dict(size=13, color="#666", family=FONT), cliponaxis=False,
                         xaxis=xs, yaxis=ys, hoverinfo="skip", showlegend=False))
hulls(xs, ys, [("blue", HULL_D_BLUE), ("orange", HULL_D_ORANGE), ("yellow", HULL_D_YELLOW), ("green", HULL_D_GREEN)])
data_arrow(xs, ys, (2.602, 0.546), (0.761, 2.423), "confidence", (2.057, 1.638), 45)

# ---------------- connector arrows (pixel geometry) ----------------
CONNECTORS = [
    ((220, 128), (300, 210), (510, 195), (489, 308)),
    ((513, 112), (585, 110), (592, 200), (577, 270)),
    ((215, 298), (255, 360), (360, 385), (440, 361)),
    ((215, 465), (265, 505), (335, 490), (375, 420)),
    ((905, 130), (965, 135), (955, 235), (1010, 252)),
    ((1157, 143), (1190, 180), (1198, 250), (1175, 298)),
    ((887, 263), (930, 240), (970, 240), (997, 268)),
    ((897, 437), (935, 448), (975, 440), (1003, 428)),
    ((190, 742), (330, 752), (400, 780), (400, 882)),
    ((497, 742), (530, 765), (560, 800), (563, 858)),
    ((192, 878), (260, 855), (335, 852), (340, 910)),
    ((190, 1018), (250, 1020), (295, 1010), (327, 986)),
    ((903, 713), (975, 735), (1020, 780), (1030, 838)),
    ((1185, 745), (1208, 770), (1215, 800), (1213, 838)),
    ((887, 865), (900, 915), (940, 948), (982, 960)),
    ((900, 1010), (960, 1008), (1020, 1003), (1072, 1013)),
]


def P(pt):
    return f"{pt[0] / W:.5f},{1 - pt[1] / H:.5f}"


for p0, c1, c2, p1 in CONNECTORS:
    dx, dy = p1[0] - c2[0], p1[1] - c2[1]
    L = math.hypot(dx, dy)
    ux, uy = dx / L, dy / L
    hl, hw = 14, 6.5
    base = (p1[0] - ux * hl, p1[1] - uy * hl)
    left = (base[0] - uy * hw, base[1] + ux * hw)
    right = (base[0] + uy * hw, base[1] - ux * hw)
    end = (p1[0] - ux * hl * 0.6, p1[1] - uy * hl * 0.6)
    shapes.append(dict(type="path", xref="paper", yref="paper", layer="above",
                       path=f"M {P(p0)} C {P(c1)} {P(c2)} {P(end)}",
                       line=dict(color="rgba(185,185,185,0.85)", width=1.5)))
    shapes.append(dict(type="path", xref="paper", yref="paper", layer="above",
                       path=f"M {P(p1)} L {P(left)} L {P(right)} Z",
                       fillcolor="rgba(195,195,195,0.85)", line=dict(width=0)))

# ---------------- panel titles ----------------
for letter, lx, ly, title, tx, ty in [("a", 22, 22, "Amplitude", 60, 20), ("b", 715, 20, "Abruptness", 750, 18),
                                       ("c", 25, 590, "Energy", 60, 587), ("d", 713, 587, "Confidence", 748, 584)]:
    annotations.append(dict(x=lx / W, y=1 - ly / H, xref="paper", yref="paper", text=f"<b>{letter}</b>",
                            showarrow=False, xanchor="center", yanchor="middle",
                            font=dict(size=26, color="#111", family=FONT)))
    annotations.append(dict(x=tx / W, y=1 - ty / H, xref="paper", yref="paper", text=title,
                            showarrow=False, xanchor="left", yanchor="middle",
                            font=dict(size=18, color="#111", family=FONT)))

fig.update_layout(template="none", width=W, height=H, margin=dict(l=0, r=0, t=0, b=0, pad=0),
                  paper_bgcolor="white", plot_bgcolor="rgba(0,0,0,0)", showlegend=False, font=dict(family=FONT),
                  shapes=shapes, annotations=annotations, **layout)
fig.write_html("out.html", config={"displayModeBar": False},
               post_script="document.body.style.margin='0px';document.body.style.overflow='hidden';")
